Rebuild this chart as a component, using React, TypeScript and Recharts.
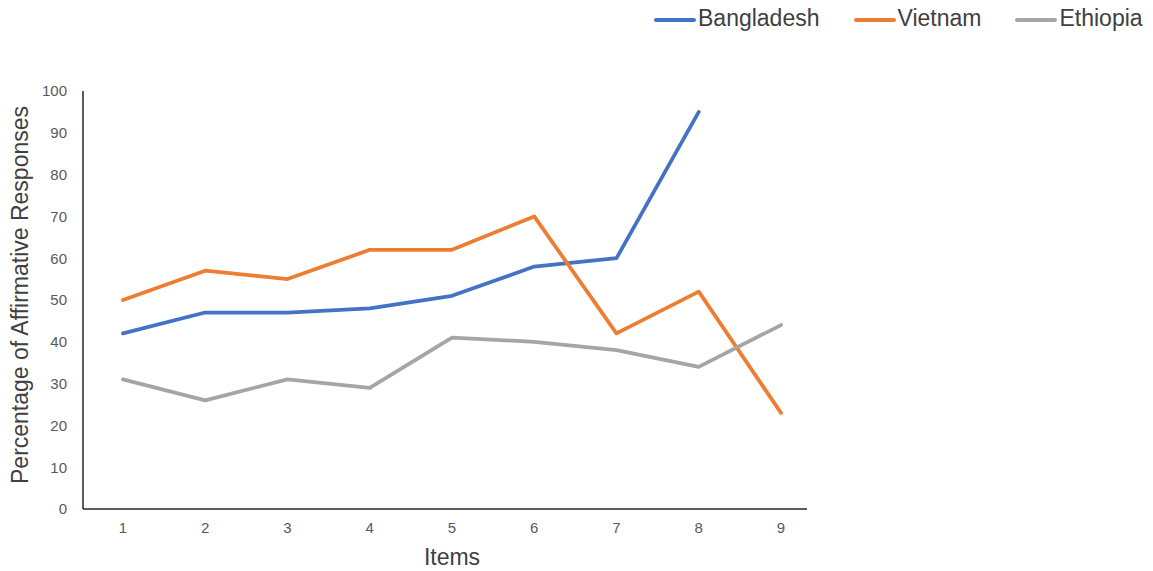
import { LineChart, Line, XAxis, YAxis, Legend, Label } from "recharts"

const items = [1, 2, 3, 4, 5, 6, 7, 8, 9]
const bangladesh = [42, 47, 47, 48, 51, 58, 60, 95, null]
const vietnam = [50, 57, 55, 62, 62, 70, 42, 52, 23]
const ethiopia = [31, 26, 31, 29, 41, 40, 38, 34, 44]
const yTicks = [0, 10, 20, 30, 40, 50, 60, 70, 80, 90, 100]

const series = [
  { key: "bangladesh", name: "Bangladesh", color: "#4472C4" },
  { key: "vietnam", name: "Vietnam", color: "#ED7D31" },
  { key: "ethiopia", name: "Ethiopia", color: "#A5A5A5" },
]

const data = items.map((item, i) => ({
  item,
  bangladesh: bangladesh[i],
  vietnam: vietnam[i],
  ethiopia: ethiopia[i],
}))

const font = "'Liberation Sans', Arial, sans-serif"

function LegendContent() {
  return (
    <div style={{ display: "flex", alignItems: "center", fontFamily: font, fontSize: 23, color: "#404040", lineHeight: "36px" }}>
      {series.map((s) => (
        <div key={s.key} style={{ display: "flex", alignItems: "center", marginRight: 34 }}>
          <svg width={42} height={10} style={{ marginRight: 2, marginTop: 3 }}>
            <line x1={2} y1={5} x2={40} y2={5} stroke={s.color} strokeWidth={4} strokeLinecap="round" />
          </svg>
          <span>{s.name}</span>
        </div>
      ))}
    </div>
  )
}

export default function App() {
  return (
    <div style={{ position: "absolute", left: 0, top: 0 }}>
      <LineChart width={1153} height={571} data={data} margin={{ top: 91, right: 346, bottom: 0, left: 0 }}>
        <XAxis
          dataKey="item"
          type="number"
          domain={[0.514, 9.316]}
          ticks={items}
          allowDataOverflow
          height={62}
          tickLine={false}
          tickSize={0}
          tickMargin={13}
          axisLine={{ stroke: "#262626", strokeWidth: 1.5 }}
          tick={{ fill: "#595959", fontSize: 15, fontFamily: font }}
        >
          <Label
            content={(props: any) => {
              const vb = props.viewBox
              return (
                <text x={vb.x + vb.width / 2 + 7} y={565} textAnchor="middle" fontFamily={font} fontSize={23} fill="#404040">
                  Items
                </text>
              )
            }}
          />
        </XAxis>
        <YAxis
          domain={[0, 100]}
          ticks={yTicks}
          width={83}
          tickLine={false}
          tickSize={0}
          tickMargin={16}
          axisLine={{ stroke: "#262626", strokeWidth: 1.5 }}
          tick={{ fill: "#595959", fontSize: 15, fontFamily: font }}
        >
          <Label
            content={(props: any) => {
              const vb = props.viewBox
              const cy = vb.y + vb.height / 2 - 5
              return (
                <text
                  x={20}
                  y={cy}
                  transform={`rotate(-90, 20, ${cy})`}
                  textAnchor="middle"
                  dominantBaseline="central"
                  fontFamily={font}
                  fontSize={23}
                  fill="#404040"
                >
                  Percentage of Affirmative Responses
                </text>
              )
            }}
          />
        </YAxis>
        <Legend
          layout="horizontal"
          verticalAlign="middle"
          align="center"
          content={() => <LegendContent />}
          wrapperStyle={{ position: "absolute", top: 0, left: 654, width: 500, height: 36 }}
        />
        {series.map((s) => (
          <Line
            key={s.key}
            type="linear"
            dataKey={s.key}
            name={s.name}
            stroke={s.color}
            strokeWidth={3.75}
            strokeLinecap="round"
            strokeLinejoin="round"
            dot={false}
            activeDot={false}
            isAnimationActive={false}
          />
        ))}
      </LineChart>
    </div>
  )
}
